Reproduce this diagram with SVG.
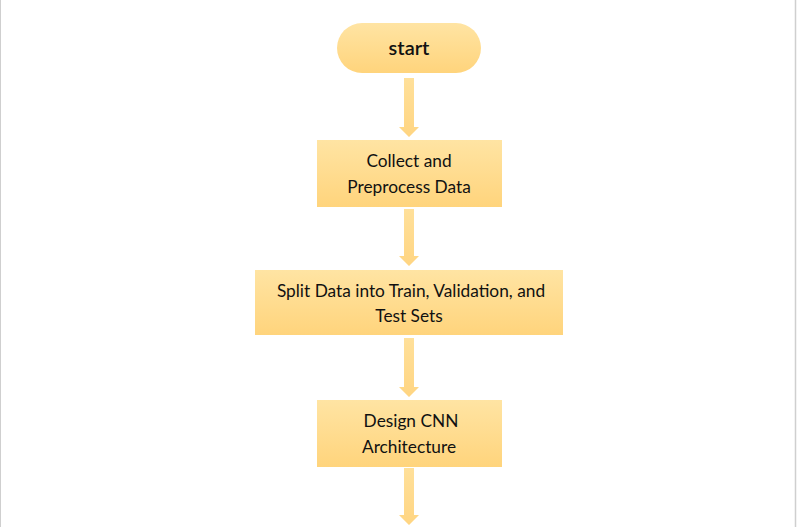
<svg xmlns="http://www.w3.org/2000/svg" width="797" height="527" viewBox="0 0 797 527">
<style>
.lbl{font-family:"Lato","Open Sans",sans-serif;font-size:17.3px;fill:#111;text-anchor:middle}
.st{font-family:"Lato","Open Sans",sans-serif;font-size:20px;font-weight:600;fill:#111;text-anchor:middle}
.box{fill:url(#g)}
.arr{fill:url(#ga)}
</style>
<defs>
<linearGradient id="g" x1="0" y1="0" x2="0" y2="1">
<stop offset="0" stop-color="#FFE4A3"/>
<stop offset="1" stop-color="#FFD47C"/>
</linearGradient>
<linearGradient id="ga" x1="0" y1="0" x2="0" y2="1">
<stop offset="0" stop-color="#FFE09A"/>
<stop offset="1" stop-color="#FFD582"/>
</linearGradient>
</defs>
<rect width="797" height="527" fill="#fff"/>
<line x1="0.5" y1="0" x2="0.5" y2="527" stroke="#cfcfcf" stroke-width="1"/>
<line x1="795.5" y1="0" x2="795.5" y2="527" stroke="#cfcfcf" stroke-width="1.5"/>
<g id="connectors">
<path class="arr" d="M404,78 H414 V127 H419 L409,137 L399,127 H404 Z"/>
<path class="arr" d="M404,209 H414 V256 H419 L409,266 L399,256 H404 Z"/>
<path class="arr" d="M404,338 H414 V387 H419 L409,397 L399,387 H404 Z"/>
<path class="arr" d="M404,468 H414 V515 H419 L409,525 L399,515 H404 Z"/>
</g>
<g id="start">
<rect class="box" x="337" y="23" width="144" height="50" rx="25"/>
<text class="st" x="409" y="55">start</text>
</g>
<g id="collect">
<rect class="box" x="317" y="140" width="185" height="67"/>
<text class="lbl" x="409" y="167">Collect and</text>
<text class="lbl" x="409" y="193">Preprocess Data</text>
</g>
<g id="split">
<rect class="box" x="255" y="270" width="308" height="65"/>
<text class="lbl" x="411" y="297">Split Data into Train, Validation, and</text>
<text class="lbl" x="409" y="322">Test Sets</text>
</g>
<g id="design">
<rect class="box" x="317" y="400" width="185" height="67"/>
<text class="lbl" x="411" y="427">Design CNN</text>
<text class="lbl" x="409" y="453">Architecture</text>
</g>
</svg>
